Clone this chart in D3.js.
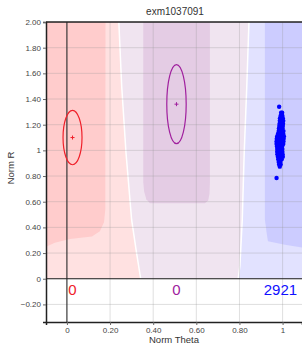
<!DOCTYPE html>
<html>
<head>
<meta charset="utf-8">
<script src="https://cdn.jsdelivr.net/npm/d3@7"></script>
<style>
  body { margin: 0; background: #fff; }
  text { font-family: Arial, "Liberation Sans", sans-serif; }
</style>
</head>
<body>
<div class="chart"></div>
<script>
// Chart data
const title = "exm1037091";
const xTicks = [0, 0.2, 0.4, 0.6, 0.8, 1];
const yTicks = [-0.2, 0, 0.2, 0.4, 0.6, 0.8, 1, 1.2, 1.4, 1.6, 1.8, 2.0];

// Cluster boundaries (theta, R), top to bottom
const pinkPurpleEdge = [[0.238, 2.1], [0.254, 1.5], [0.274, 0.98], [0.300, 0.46], [0.323, 0.20], [0.342, 0]];
const purpleBlueEdge = [[0.846, 2.1], [0.834, 1.5], [0.822, 0.98], [0.813, 0.46], [0.802, 0.10], [0.794, 0]];

// Darker cluster cores (theta, R)
const redCore = [[-0.2, 2.1], [0.179, 2.1], [0.178, 0.54], [0.172, 0.44], [0.153, 0.37], [0.116, 0.33],
  [0.014, 0.31], [-0.056, 0.28], [-0.097, 0.25], [-0.2, 0.2]];
const purpleCore = [[0.354, 2.1], [0.354, 0.75], [0.358, 0.68], [0.368, 0.62], [0.385, 0.588],
  [0.640, 0.588], [0.655, 0.61], [0.661, 0.66], [0.663, 0.75], [0.663, 2.1]];
const blueCore = [[0.918, 2.1], [0.918, 0.46], [0.926, 0.358], [0.932, 0.292], [1.011, 0.265], [1.2, 0.215], [1.2, 2.1]];

// Cluster ellipses: centre, half-widths
const clusters = [
  { name: "AA", theta: 0.026, r: 1.10, rtheta: 0.044, rr: 0.212, color: "#f0202a", count: 0 },
  { name: "AB", theta: 0.508, r: 1.36, rtheta: 0.045, rr: 0.308, color: "#a0209e", count: 0 },
  { name: "BB", theta: 0.99, r: 1.08, rtheta: 0, rr: 0, color: "#1010ff", count: 2921 }
];

// Samples (theta, R)
const samples = [
  [0.984, 1.34],
  [0.993, 1.293], [0.998, 1.293],
  [0.991, 1.27], [0.999, 1.27],
  [0.988, 1.25], [0.995, 1.25], [1.001, 1.25],
  [0.987, 1.23], [0.995, 1.23], [1.003, 1.23],
  [0.986, 1.208], [0.994, 1.208], [1.002, 1.208],
  [0.985, 1.19], [0.993, 1.19], [1.001, 1.19],
  [0.983, 1.17], [0.991, 1.17], [1.000, 1.17],
  [0.982, 1.15], [0.990, 1.15], [0.998, 1.15], [1.004, 1.15],
  [0.979, 1.13], [0.987, 1.13], [0.995, 1.13], [1.003, 1.13],
  [0.975, 1.11], [0.983, 1.11], [0.991, 1.11], [0.999, 1.11], [1.006, 1.11],
  [0.973, 1.09], [0.981, 1.09], [0.989, 1.09], [0.997, 1.09], [1.005, 1.09],
  [0.972, 1.07], [0.980, 1.07], [0.988, 1.07], [0.996, 1.07], [1.004, 1.07],
  [0.972, 1.05], [0.980, 1.05], [0.988, 1.05], [0.996, 1.05], [1.003, 1.05],
  [0.974, 1.03], [0.982, 1.03], [0.990, 1.03], [0.998, 1.03],
  [0.975, 1.01], [0.983, 1.01], [0.991, 1.01], [0.999, 1.01],
  [0.975, 0.99], [0.983, 0.99], [0.991, 0.99], [0.999, 0.99],
  [0.976, 0.97], [0.984, 0.97], [0.992, 0.97], [1.000, 0.97],
  [0.978, 0.95], [0.986, 0.95], [0.994, 0.95], [1.001, 0.95],
  [0.980, 0.93], [0.988, 0.93], [0.996, 0.93],
  [0.982, 0.91], [0.990, 0.91],
  [0.984, 0.89], [0.991, 0.89],
  [0.987, 0.873],
  [0.972, 0.785]
];

const W = 302, H = 349;
const plotLeft = 46, plotTop = 22, plotBottom = 322;

const svg = d3.select(".chart").append("svg")
  .attr("width", W).attr("height", H);

const x = d3.scaleLinear().domain([-0.097, 1.09]).range([plotLeft, W]);
const y = d3.scaleLinear().domain([-0.337, 2.0]).range([plotBottom, plotTop]);

svg.append("clipPath").attr("id", "plot")
  .append("rect").attr("x", plotLeft).attr("y", plotTop)
  .attr("width", W - plotLeft).attr("height", plotBottom - plotTop);
svg.append("clipPath").attr("id", "upper")
  .append("rect").attr("x", plotLeft).attr("y", plotTop)
  .attr("width", W - plotLeft).attr("height", y(0) - plotTop);

const plot = svg.append("g").attr("clip-path", "url(#plot)");
const bg = plot.append("g").attr("clip-path", "url(#upper)");

const line = d3.line().x(d => x(d[0])).y(d => y(d[1]));

// Region backgrounds
const pinkPoly = [[-0.2, 2.1]].concat(pinkPurpleEdge, [[-0.2, 0]]);
const purplePoly = pinkPurpleEdge.concat(purpleBlueEdge.slice().reverse());
const bluePoly = purpleBlueEdge.concat([[1.2, 0], [1.2, 2.1]]);

bg.append("path").attr("d", line(pinkPoly) + "Z").attr("fill", "#ffe1e1");
bg.append("path").attr("d", line(purplePoly) + "Z").attr("fill", "#f0e4f0");
bg.append("path").attr("d", line(bluePoly) + "Z").attr("fill", "#e2e2ff");
bg.append("path").attr("d", line(redCore) + "Z").attr("fill", "#ffcccc");
bg.append("path").attr("d", line(purpleCore) + "Z").attr("fill", "#e4cce4");
bg.append("path").attr("d", line(blueCore) + "Z").attr("fill", "#ccccff");

[pinkPurpleEdge, purpleBlueEdge].forEach(edge => {
  bg.append("path").attr("d", line(edge))
    .attr("fill", "none").attr("stroke", "#fff").attr("stroke-width", 1.5);
});

// Grid
plot.append("g").selectAll("line").data(xTicks).join("line")
  .attr("x1", d => x(d)).attr("x2", d => x(d))
  .attr("y1", plotTop).attr("y2", plotBottom)
  .attr("stroke", "rgba(150,150,150,0.3)");
plot.append("g").selectAll("line").data(yTicks).join("line")
  .attr("x1", plotLeft).attr("x2", W)
  .attr("y1", d => y(d)).attr("y2", d => y(d))
  .attr("stroke", "rgba(150,150,150,0.3)");

// Zero lines
plot.append("line").attr("x1", x(0)).attr("x2", x(0)).attr("y1", plotTop).attr("y2", plotBottom)
  .attr("stroke", "#222");
plot.append("line").attr("x1", plotLeft).attr("x2", W).attr("y1", y(0)).attr("y2", y(0))
  .attr("stroke", "#222");

// Ellipses and centres
const drawn = clusters.filter(d => d.rr > 0);
plot.append("g").selectAll("ellipse").data(drawn).join("ellipse")
  .attr("cx", d => x(d.theta)).attr("cy", d => y(d.r))
  .attr("rx", d => x(d.theta + d.rtheta) - x(d.theta))
  .attr("ry", d => y(d.r) - y(d.r + d.rr))
  .attr("fill", "none").attr("stroke", d => d.color).attr("stroke-width", 1.2);
drawn.forEach(d => {
  const cx = x(d.theta), cy = y(d.r);
  plot.append("path")
    .attr("d", `M${cx - 2},${cy}H${cx + 2}M${cx},${cy - 2}V${cy + 2}`)
    .attr("stroke", d.color).attr("stroke-width", 1);
});

// Samples
plot.append("g").selectAll("circle").data(samples).join("circle")
  .attr("cx", d => x(d[0])).attr("cy", d => y(d[1]))
  .attr("r", 2.2).attr("fill", "#0000ff");

// Counts
svg.append("g").selectAll("text").data(clusters).join("text")
  .attr("x", d => x(d.theta)).attr("y", y(-0.125))
  .attr("text-anchor", "middle")
  .attr("font-size", 15)
  .attr("fill", d => d.color)
  .text(d => d.count);

// Axes
const fmt = d => d === 0 || d === 1 ? d3.format("d")(d) : d3.format(".2f")(d);
const xAxis = d3.axisBottom(x).tickValues(xTicks).tickSize(3).tickPadding(2).tickFormat(fmt);
const yAxis = d3.axisLeft(y).tickValues(yTicks).tickSize(3).tickPadding(2).tickFormat(fmt);

const xAxisG = svg.append("g").attr("transform", `translate(0,${plotBottom})`).call(xAxis);
const yAxisG = svg.append("g").attr("transform", `translate(${plotLeft},0)`).call(yAxis);
[xAxisG, yAxisG].forEach(g => {
  g.select(".domain").attr("stroke", "#222").attr("stroke-width", 1.5);
  g.selectAll(".tick line").attr("stroke", "#666");
  g.selectAll(".tick text").attr("font-size", 8).attr("fill", "#444")
    .attr("font-family", "Arial, 'Liberation Sans', sans-serif");
});

// Top border
svg.append("line").attr("x1", plotLeft).attr("x2", W).attr("y1", plotTop).attr("y2", plotTop)
  .attr("stroke", "#222").attr("stroke-width", 1.5);

// Labels
svg.append("text").attr("x", 175).attr("y", 15).attr("text-anchor", "middle")
  .attr("font-size", 10).attr("fill", "#333").text(title);
svg.append("text").attr("x", 174).attr("y", 343).attr("text-anchor", "middle")
  .attr("font-size", 9.5).attr("fill", "#333").text("Norm Theta");
svg.append("text").attr("transform", "translate(14,168) rotate(-90)").attr("text-anchor", "middle")
  .attr("font-size", 9.5).attr("fill", "#333").text("Norm R");
</script>
</body>
</html>
